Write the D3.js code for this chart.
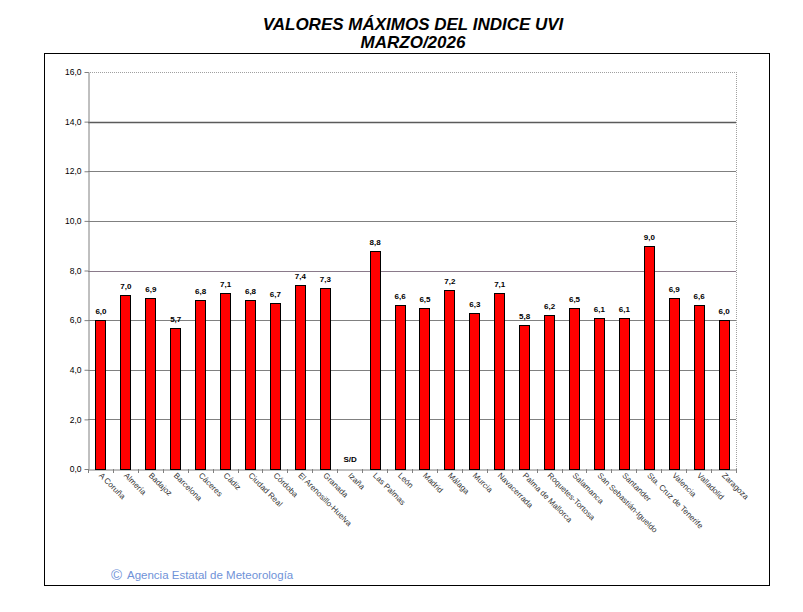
<!DOCTYPE html>
<html><head><meta charset="utf-8">
<script src="https://cdn.jsdelivr.net/npm/d3@7"></script>
<style>body{margin:0;background:#fff}svg{display:block}</style>
</head><body>
<svg id="c" width="803" height="612"></svg>
<script>
const titleLines = ["VALORES MÁXIMOS DEL INDICE UVI", "MARZO/2026"];
const stations = ["A Coruña","Almería","Badajoz","Barcelona","Cáceres","Cádiz","Ciudad Real","Córdoba","El Arenosillo-Huelva","Granada","Izaña","Las Palmas","León","Madrid","Málaga","Murcia","Navacerrada","Palma de Mallorca","Roquetes-Tortosa","Salamanca","San Sebastián-Igueldo","Santander","Sta. Cruz de Tenerife","Valencia","Valladolid","Zaragoza"];
const uvi = [6.0,7.0,6.9,5.7,6.8,7.1,6.8,6.7,7.4,7.3,null,8.8,6.6,6.5,7.2,6.3,7.1,5.8,6.2,6.5,6.1,6.1,9.0,6.9,6.6,6.0];
const yTicks = [0,2,4,6,8,10,12,14,16];
const missingLabel = "S/D";
const footerSymbol = "©";
const footerText = "Agencia Estatal de Meteorología";

const svg = d3.select("#c");
const fmt = v => d3.format(".1f")(v).replace(".", ",");
const L = 88, R = 736, T = 72, B = 469;
const FONT = "Liberation Sans, Arial, sans-serif";

// outer frame
svg.append("rect").attr("x",44.5).attr("y",53.5).attr("width",725).attr("height",532)
  .attr("fill","none").attr("stroke","#000").attr("stroke-width",1);

// title
svg.selectAll("text.title").data(titleLines).join("text")
  .attr("x",413).attr("y",(d,i)=>30+i*18).attr("text-anchor","middle")
  .attr("font-family",FONT).attr("font-weight","bold")
  .attr("font-style","italic").attr("font-size",17).attr("fill","#000").text(d=>d);

const x = d3.scaleBand().domain(stations).range([L,R]).paddingInner(0.6).paddingOuter(0.3);
const xb = d3.scaleBand().domain(stations).range([L,R]);
const y = d3.scaleLinear().domain([0,16]).range([B,T]);

// gridlines
svg.append("g").selectAll("line").data(yTicks.filter(d=>d>0)).join("line")
  .attr("x1",L).attr("x2",R).attr("y1",d=>Math.round(y(d))+0.5).attr("y2",d=>Math.round(y(d))+0.5)
  .attr("stroke",d=>d===14?"#5a5a5a":(d===16?"#a0a0a0":(d===8?"#8a7a8a":"#808080")))
  .attr("stroke-width",d=>d===14?1.6:1)
  .attr("stroke-dasharray",d=>d===16?"1,1":null);
// right border
svg.append("line").attr("x1",R+0.5).attr("x2",R+0.5).attr("y1",T).attr("y2",B)
  .attr("stroke","#a0a0a0").attr("stroke-dasharray","1,1");

// y axis
const yAxis = svg.append("g").attr("transform",`translate(${L+0.5},0)`)
  .call(d3.axisLeft(y).tickValues(yTicks).tickFormat(fmt).tickSize(4).tickSizeOuter(0));
yAxis.select(".domain").attr("stroke","#808080");
yAxis.selectAll(".tick line").attr("stroke","#808080");
yAxis.selectAll("text").attr("font-family",FONT)
  .attr("font-size",8.5).attr("fill","#000").attr("x",-7);

// x axis
const xAxis = svg.append("g").attr("transform",`translate(0,${B+0.5})`)
  .call(d3.axisBottom(xb).tickSize(0).tickSizeOuter(0));
xAxis.select(".domain").attr("stroke","#808080");
xAxis.selectAll("text").remove();
svg.append("g").selectAll("line").data(stations.concat(["__end"])).join("line")
  .attr("x1",(d,i)=>Math.round(L+i*xb.bandwidth())+0.5).attr("x2",(d,i)=>Math.round(L+i*xb.bandwidth())+0.5)
  .attr("y1",B).attr("y2",B+4).attr("stroke","#808080");

// x labels
svg.append("g").selectAll("text").data(stations).join("text")
  .attr("transform",d=>`translate(${xb(d)+xb.bandwidth()/2-2},${B+7}) rotate(45)`)
  .attr("font-family",FONT).attr("font-size",8)
  .attr("fill","#333").text(d=>d);

// bars
const data = stations.map((s,i)=>({s, v: uvi[i]}));
svg.append("g").selectAll("rect").data(data.filter(d=>d.v!==null)).join("rect")
  .attr("x",d=>Math.round(x(d.s))+0.5).attr("y",d=>Math.round(y(d.v))+0.5)
  .attr("width",Math.round(x.bandwidth())).attr("height",d=>Math.round(B-y(d.v)))
  .attr("fill","#ff0000").attr("stroke","#000").attr("stroke-width",1);

// value labels
svg.append("g").selectAll("text").data(data).join("text")
  .attr("x",d=>x(d.s)+x.bandwidth()/2+0.5)
  .attr("y",d=>d.v===null?B-7:y(d.v)-6)
  .attr("text-anchor","middle")
  .attr("font-family",FONT).attr("font-size",8).attr("font-weight","bold")
  .attr("fill","#000").text(d=>d.v===null?missingLabel:fmt(d.v));

// footer
svg.append("text").attr("x",111).attr("y",580)
  .attr("font-family",FONT).attr("font-size",15)
  .attr("fill","#6f92d8").text(footerSymbol);
svg.append("text").attr("x",127).attr("y",579)
  .attr("font-family",FONT).attr("font-size",11.5)
  .attr("fill","#6f92d8").text(footerText);
</script>
</body></html>
